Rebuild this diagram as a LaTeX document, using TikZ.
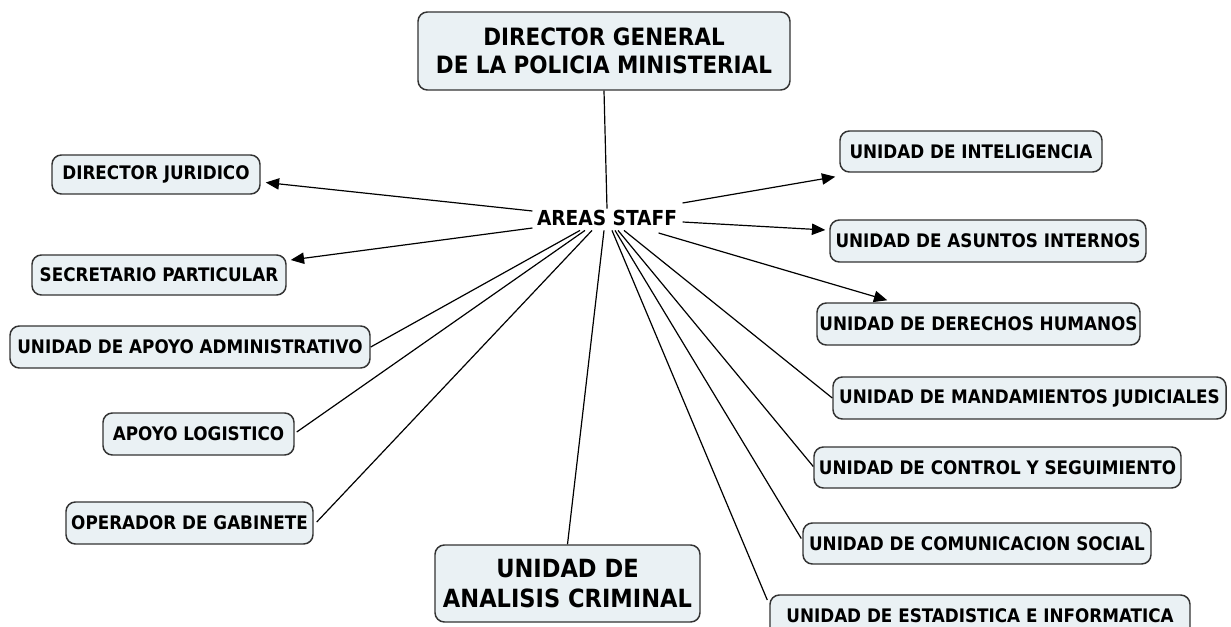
\documentclass[tikz,border=0pt]{standalone}
\usepackage{fontspec}
\setmainfont{DejaVu Sans Condensed}
\usetikzlibrary{arrows.meta,calc}
\newdimen\px \px=0.75pt
\definecolor{boxfill}{HTML}{EAF1F4}
\definecolor{boxline}{HTML}{333333}
\tikzset{
  box/.style={draw=boxline, line width=1.1pt, fill=boxfill, rounded corners=7pt,
    font=\bfseries\fontsize{14}{16}\selectfont, inner sep=0pt, align=center},
  bigbox/.style={box, font=\bfseries\fontsize{17.9}{21}\selectfont},
  link/.style={line width=0.9pt, draw=black},
  arr/.style={link, -{Triangle[length=10pt,width=8.5pt]}}
}
\begin{document}
\begin{tikzpicture}[x=\px, y=-\px]
\useasboundingbox (0,0) rectangle (1231,627);
\clip (0,0) rectangle (1231,627);
% nodes
\node[bigbox, minimum width=372\px, minimum height=78\px] (dg) at (604,51) {DIRECTOR GENERAL\\[0pt]DE LA POLICIA MINISTERIAL};
\node[font=\bfseries\fontsize{15.5}{17}\selectfont, inner sep=1pt] (staff) at (607,218) {AREAS STAFF};
\node[box, minimum width=208\px, minimum height=39\px] (dj) at (156,174.5) {DIRECTOR JURIDICO};
\node[box, minimum width=254\px, minimum height=40\px] (sp) at (159,275) {SECRETARIO PARTICULAR};
\node[box, minimum width=360\px, minimum height=42\px] (uaa) at (190,347) {UNIDAD DE APOYO ADMINISTRATIVO};
\node[box, minimum width=191\px, minimum height=42\px] (al) at (198.5,434) {APOYO LOGISTICO};
\node[box, minimum width=247\px, minimum height=42\px] (og) at (189.5,523) {OPERADOR DE GABINETE};
\node[bigbox, minimum width=265\px, minimum height=77\px, font=\bfseries\fontsize{18.8}{23}\selectfont] (uac) at (567.5,583.5) {UNIDAD DE\\ANALISIS CRIMINAL};
\node[box, minimum width=262\px, minimum height=41\px] (ui) at (971,151.5) {UNIDAD DE INTELIGENCIA};
\node[box, minimum width=316\px, minimum height=42\px] (uai) at (988,241) {UNIDAD DE ASUNTOS INTERNOS};
\node[box, minimum width=323\px, minimum height=42\px] (udh) at (978.5,324) {UNIDAD DE DERECHOS HUMANOS};
\node[box, minimum width=393\px, minimum height=42\px] (umj) at (1029.5,398) {UNIDAD DE MANDAMIENTOS JUDICIALES};
\node[box, minimum width=367\px, minimum height=41\px] (ucs) at (997.5,467.5) {UNIDAD DE CONTROL Y SEGUIMIENTO};
\node[box, minimum width=348\px, minimum height=41\px] (ucom) at (977,543.5) {UNIDAD DE COMUNICACION SOCIAL};
\node[box, minimum width=420\px, minimum height=42\px] (uei) at (980,616) {UNIDAD DE ESTADISTICA E INFORMATICA};
% connectors
\draw[link] (dg.south) -- (staff.north);
\draw[arr] ($(staff.west)+(-3,-7)$) -- ($(dj.east)+(5,8)$);
\draw[arr] ($(staff.west)+(-3,10)$) -- ($(sp.east)+(4,-15)$);
\draw[link] ($(staff.south)+(-27,3)$) -- (uaa.east);
\draw[link] ($(staff.south)+(-22,3)$) -- ($(al.east)+(2,-2)$);
\draw[link] ($(staff.south)+(-15,3)$) -- ($(og.east)+(3,-1)$);
\draw[link] ($(staff.south)+(-3,3)$) -- (uac.north);
\draw[link] ($(staff.south)+(5,3)$) -- ($(uei.west)+(-2,-16)$);
\draw[link] ($(staff.south)+(8,3)$) -- ($(ucom.west)+(-1,-5)$);
\draw[link] ($(staff.south)+(11,3)$) -- ($(ucs.west)+(0,-1)$);
\draw[link] ($(staff.south)+(17,3)$) -- (umj.west);
\draw[arr] ($(staff.east)+(-20,15)$) -- ($(udh.north west)+(71,-2)$);
\draw[arr] ($(staff.east)+(4,4)$) -- ($(uai.west)+(-4,-11)$);
\draw[arr] ($(staff.east)+(4,-15)$) -- ($(ui.south west)+(-4,4)$);
\end{tikzpicture}
\end{document}
